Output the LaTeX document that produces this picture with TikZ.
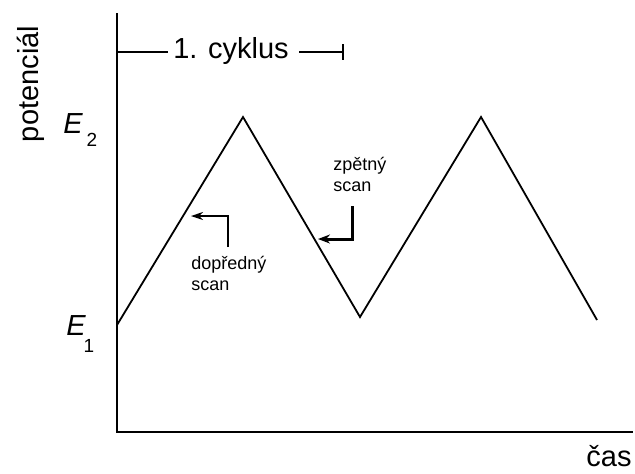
\documentclass[tikz,border=0pt]{standalone}
\usepackage{fontspec}
\setmainfont{Liberation Sans}
\usetikzlibrary{arrows.meta}
\begin{document}
\begin{tikzpicture}[x=0.5pt,y=-0.5pt,
  axisline/.style={line width=1pt},
  wave/.style={line width=0.9pt, line join=miter},
  biglabel/.style={font=\fontsize{14.5}{16}\selectfont, inner sep=0pt},
  smalllabel/.style={font=\fontsize{9}{10.5}\selectfont, inner sep=0pt, align=left},
  elabel/.style={font=\fontsize{14.5}{16}\selectfont\itshape, inner sep=0pt, anchor=base},
  esub/.style={font=\fontsize{9.5}{11}\selectfont, inner sep=0pt, anchor=base},
  note/.style={line width=0.8pt, -{Stealth[length=6pt,width=4pt]}},
  notethick/.style={line width=1.5pt, -{Stealth[length=6pt,width=4.5pt]}}]
\useasboundingbox (0,0) rectangle (635,473);
% axes
\coordinate (top) at (117,13);
\coordinate (origin) at (117,432);
\coordinate (xend) at (633,432);
\draw[axisline] (top) -- (origin) -- (xend);
% wave
\coordinate (w0) at (117,325);
\coordinate (w1) at (243,117);
\coordinate (w2) at (360,317);
\coordinate (w3) at (481,117);
\coordinate (w4) at (597,320);
\draw[wave] (w0) -- (w1) -- (w2) -- (w3) -- (w4);
% cycle label
\node[biglabel] (cyk) at (231,51) {1. cyklus};
\coordinate (cl) at (117,52);
\coordinate (cr) at (343,52);
\coordinate (ct) at (343,44);
\coordinate (cb) at (343,60);
\draw[line width=0.7pt] (cl) -- ([xshift=-2.5pt]cyk.west |- cl);
\draw[line width=0.7pt] ([xshift=5pt]cyk.east |- cr) -- (cr);
\draw[line width=0.8pt] (ct) -- (cb);
% axis labels
\node[biglabel, rotate=90] (pot) at (31,84) {potenciál};
\node[biglabel] (cas) at (609,456) {čas};
% E labels
\node[elabel] (e2) at (73,133) {E};
\node[esub] (e2s) at (92,146) {2};
\node[elabel] (e1) at (76,335) {E};
\node[esub] (e1s) at (89,352) {1};
% forward scan
\coordinate (f0) at (228,247);
\coordinate (f1) at (228,216);
\coordinate (f2) at (191,216);
\draw[note] (f0) -- (f1) -- (f2);
\node[smalllabel, anchor=north west] (fwd) at (191,256) {dopředný\\scan};
% reverse scan
\coordinate (r0) at (352,206);
\coordinate (r1) at (352,239);
\coordinate (r2) at (318,239);
\draw[notethick] (r0) -- (r1) -- (r2);
\node[smalllabel, anchor=north west] (rev) at (333,157) {zpětný\\scan};
\end{tikzpicture}
\end{document}
